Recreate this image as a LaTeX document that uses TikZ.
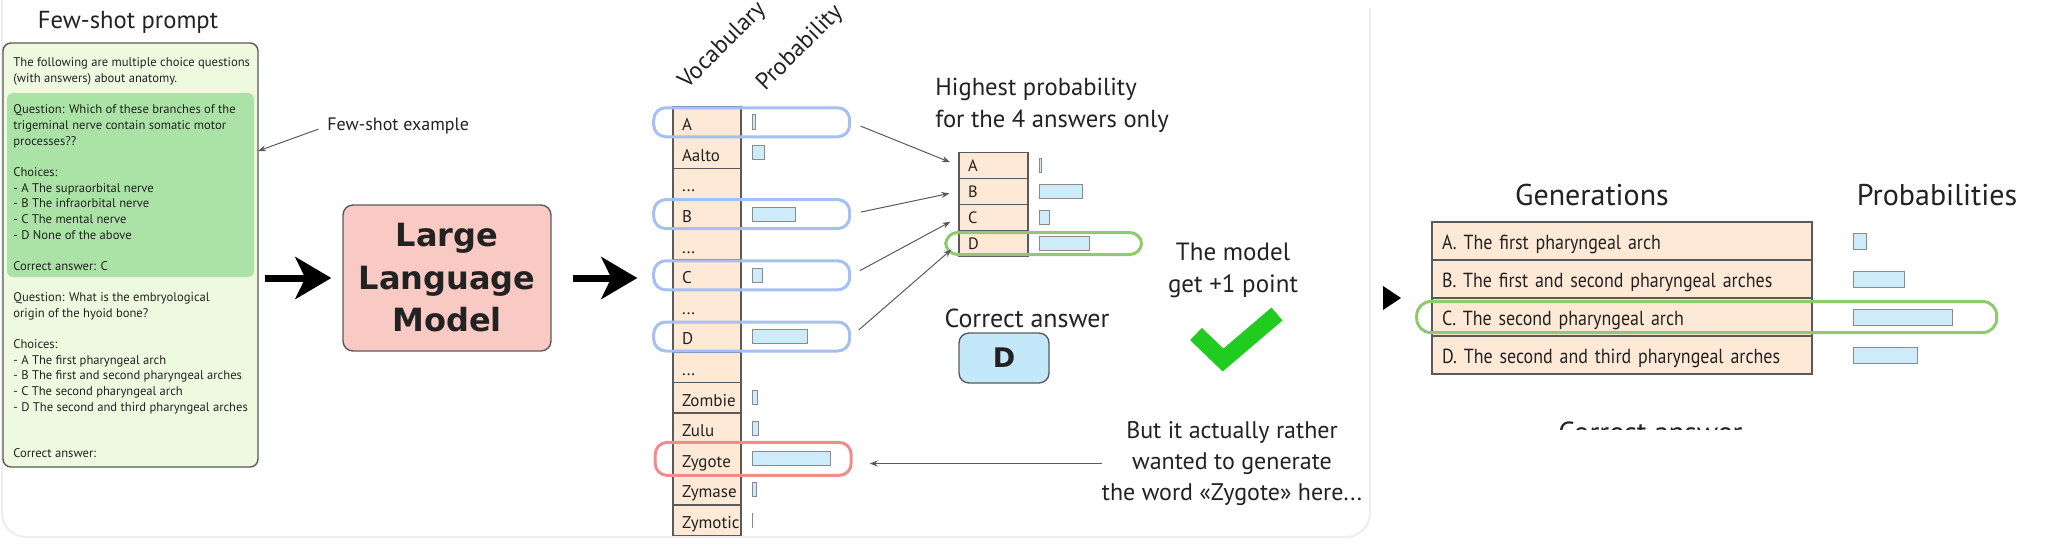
\documentclass[tikz,border=0pt]{standalone}
\usepackage{fontspec}
\setmainfont{PT Sans}
\newfontfamily\heavyfont{DejaVu Sans}
\newfontfamily\narrowfont{PT Sans}[FakeStretch=0.88]
\usepackage{tikz}
\usetikzlibrary{positioning, arrows.meta}

\definecolor{framegray}{HTML}{EDEDED}
\definecolor{ink}{HTML}{222222}
\definecolor{edgegray}{HTML}{5A5A5A}
\definecolor{promptfill}{HTML}{EDFADF}
\definecolor{shotfill}{HTML}{ABE2A6}
\definecolor{llmfill}{HTML}{F9C9C3}
\definecolor{cellfill}{HTML}{FDE9D5}
\definecolor{barfill}{HTML}{CDEBF8}
\definecolor{barline}{HTML}{8A8A8A}
\definecolor{ringblue}{HTML}{A4C0F4}
\definecolor{ringred}{HTML}{F28B8B}
\definecolor{ringgreen}{HTML}{8DCB6E}
\definecolor{answerfill}{HTML}{C3E8F9}
\definecolor{tickgreen}{HTML}{20CC20}

\begin{document}
\begin{tikzpicture}[x=0.5pt, y=-0.5pt, node distance=15.3pt, on grid, text=ink,
    prompttext/.style={inner sep=0pt, align=left, font=\fontsize{6.3pt}{7.83pt}\selectfont},
    vocab/.style={draw=edgegray, fill=cellfill, line width=0.7pt, minimum height=15.3pt,
        inner xsep=4.5pt, inner ysep=0pt, text width=25pt, align=left,
        text height=9.5pt, text depth=1.1pt, font=\fontsize{8.5pt}{10pt}\selectfont},
    pick/.style={vocab, minimum height=13pt, text width=25.5pt, text height=7pt, text depth=1pt,
        font=\fontsize{8.2pt}{10pt}\selectfont},
    gen/.style={vocab, minimum height=19pt, inner xsep=5pt, text width=180pt,
        text height=10pt, text depth=1.5pt, font=\narrowfont\fontsize{10.2pt}{12pt}\selectfont},
    bar/.style={draw=barline, fill=barfill, line width=0.5pt, anchor=west, inner sep=0pt,
        minimum height=7pt},
    ring/.style={line width=1.5pt, rounded corners=6pt, minimum width=98pt,
        minimum height=14.5pt, inner sep=0pt},
    bigarrow/.style={-{Stealth[length=18pt, width=21pt, inset=5pt]}, line width=3.5pt, black},
    thinarrow/.style={-{Stealth[length=4pt, width=3pt]}, edgegray, line width=0.5pt}]

    \useasboundingbox (0,0) rectangle (2070,548);
    \draw[framegray, line width=1pt, rounded corners=12pt]
        (2,0) -- (2,537) -- (1370,537) -- (1370,8);

    % few-shot prompt
    \node[anchor=base, inner sep=0pt, font=\fontsize{12.3pt}{14pt}\selectfont] (title) at (128,28) {Few-shot prompt};
    \node[draw=edgegray, fill=promptfill, line width=0.7pt, rounded corners=4pt,
          minimum width=127.5pt, minimum height=212pt] (prompt) at (130.5,255) {};
    \node[fill=shotfill, rounded corners=3pt, minimum width=123.5pt, minimum height=92pt] (shot) at (130.5,185) {};
    \node[prompttext, anchor=north west] (intro) at (13,57.5)
        {The following are multiple choice questions\\(with answers) about anatomy.};
    \node[prompttext, anchor=north west] (shottext) at (13,104.5)
        {Question: Which of these branches of the\\trigeminal nerve contain somatic motor\\processes??\\[7.83pt]
         Choices:\\- A The supraorbital nerve\\- B The infraorbital nerve\\- C The mental nerve\\- D None of the above\\[7.83pt]
         Correct answer: C};
    \node[prompttext, anchor=north west] (query) at (13,292)
        {Question: What is the embryological\\origin of the hyoid bone?\\[7.83pt]
         Choices:\\- A The first pharyngeal arch\\- B The first and second pharyngeal arches\\- C The second pharyngeal arch\\- D The second and third pharyngeal arches\\[15.66pt]
         Correct answer:};
    \node[anchor=west, inner sep=0pt, font=\fontsize{9pt}{11pt}\selectfont] (fse) at (327,126) {Few-shot example};
    \coordinate (fsetip) at (258,151);
    \draw[thinarrow, shorten <=4.5pt] (fse.west) -- (fsetip);

    % model
    \node[draw=edgegray, fill=llmfill, line width=0.7pt, rounded corners=5pt,
          minimum width=104pt, minimum height=73pt, align=center,
          font=\heavyfont\bfseries\fontsize{16pt}{21.25pt}\selectfont] (llm) at (447,278) {Large\\Language\\Model};

    % vocabulary
    \node[rotate=45, anchor=base west, inner sep=0pt, font=\fontsize{12pt}{14pt}\selectfont] (vocabhead) at (687,90) {Vocabulary};
    \node[rotate=45, anchor=base west, inner sep=0pt, font=\fontsize{12pt}{14pt}\selectfont] (probhead) at (765,92) {Probability};
    \node[vocab] (vA) at (707,122.3) {A};
    \node[vocab] (vAalto) [below=of vA] {Aalto};
    \node[vocab] (vgap1) [below=of vAalto] {...};
    \node[vocab] (vB) [below=of vgap1] {B};
    \node[vocab] (vgap2) [below=of vB] {...};
    \node[vocab] (vC) [below=of vgap2] {C};
    \node[vocab] (vgap3) [below=of vC] {...};
    \node[vocab] (vD) [below=of vgap3] {D};
    \node[vocab] (vgap4) [below=of vD] {...};
    \node[vocab] (vZombie) [below=of vgap4] {Zombie};
    \node[vocab] (vZulu) [below=of vZombie] {Zulu};
    \node[vocab] (vZygote) [below=of vZulu] {Zygote};
    \node[vocab] (vZymase) [below=of vZygote] {Zymase};
    \node[vocab] (vZymotic) [below=of vZymase] {Zymotic};

    \node[bar, minimum width=1.5pt, minimum height=7.5pt] (pA) at ([xshift=5pt]vA.east) {};
    \node[bar, minimum width=6pt] (pAalto) at ([xshift=5pt]vAalto.east) {};
    \node[bar, minimum width=21.5pt] (pB) at ([xshift=5pt]vB.east) {};
    \node[bar, minimum width=5pt] (pC) at ([xshift=5pt]vC.east) {};
    \node[bar, minimum width=27.5pt] (pD) at ([xshift=5pt]vD.east) {};
    \node[bar, minimum width=2.5pt] (pZombie) at ([xshift=5pt]vZombie.east) {};
    \node[bar, minimum width=3pt] (pZulu) at ([xshift=5pt]vZulu.east) {};
    \node[bar, minimum width=39pt] (pZygote) at ([xshift=5pt]vZygote.east) {};
    \node[bar, minimum width=2pt] (pZymase) at ([xshift=5pt]vZymase.east) {};
    \node[bar, minimum width=0.3pt] (pZymotic) at ([xshift=5pt]vZymotic.east) {};

    \node[ring, draw=ringblue] (hA) at (pA.west) {};
    \node[ring, draw=ringblue] (hB) at (pB.west) {};
    \node[ring, draw=ringblue] (hC) at (pC.west) {};
    \node[ring, draw=ringblue] (hD) at (pD.west) {};
    \node[ring, draw=ringred, minimum height=16.5pt] (hZ) at ([xshift=0.75pt]pZygote.west) {};

    \draw[bigarrow, shorten <=3pt, shorten >=5.5pt] (prompt.east |- llm.west) -- (llm.west);
    \draw[bigarrow, shorten <=10.5pt, shorten >=17.5pt] (llm.east) -- (llm.east -| vC.west);

    % four answers only
    \node[anchor=west, align=left, inner sep=0pt, font=\fontsize{12.3pt}{16pt}\selectfont] (highest) at (935,105.5)
        {Highest probability\\for the 4 answers only};
    \node[pick] (sA) at (993.5,165.5) {A};
    \node[pick] (sB) [below=13pt of sA] {B};
    \node[pick] (sC) [below=13pt of sB] {C};
    \node[pick] (sD) [below=13pt of sC] {D};
    \node[bar, minimum width=1pt] (spA) at ([xshift=5pt]sA.east) {};
    \node[bar, minimum width=21.5pt] (spB) at ([xshift=5pt]sB.east) {};
    \node[bar, minimum width=5pt] (spC) at ([xshift=5pt]sC.east) {};
    \node[bar, minimum width=25pt] (spD) at ([xshift=5pt]sD.east) {};
    \node[ring, draw=ringgreen, minimum height=11pt] (hsD) at ([xshift=2.5pt]spD.west) {};

    \path[thinarrow, shorten <=5pt, shorten >=4.5pt]
        (hA.east) edge (sA.west)
        (hB.east) edge (sB.west)
        (hC.east) edge (sC.west)
        (hD.east) edge (sD.west);

    \node[anchor=base, inner sep=0pt, font=\fontsize{13pt}{15pt}\selectfont] (correct) at (1027,327) {Correct answer};
    \node[draw=edgegray, fill=answerfill, line width=0.7pt, rounded corners=5pt,
          minimum width=45pt, minimum height=25pt,
          font=\heavyfont\bfseries\fontsize{13.5pt}{16pt}\selectfont] (answer) at (1004,358) {D};
    \node[align=center, inner sep=0pt, font=\fontsize{12.5pt}{16pt}\selectfont] (point) at (1233,270)
        {The model\\get +1 point};
    \draw[tickgreen, line width=8.5pt] (1196,334) -- (1223,360) -- (1277,314);

    \node[align=center, inner sep=0pt, font=\fontsize{12pt}{15.5pt}\selectfont] (rather) at (1232,463.5)
        {But it actually rather\\wanted to generate\\the word «Zygote» here...};
    \draw[thinarrow, shorten >=8.5pt] (rather.west) -- (rather.west -| hZ.east);

    % generations
    \fill[black] (1383,286) -- (1401,298) -- (1383,310) -- cycle;
    \node[anchor=base, inner sep=0pt, font=\fontsize{15pt}{18pt}\selectfont] (genhead) at (1592,205) {Generations};
    \node[anchor=base, inner sep=0pt, font=\fontsize{15pt}{18pt}\selectfont] (probshead) at (1937,205) {Probabilities};
    \node[gen] (gA) at (1622,241) {\mbox{A. The first pharyngeal arch}};
    \node[gen] (gB) [below=19pt of gA] {\mbox{B. The first and second pharyngeal arches}};
    \node[gen] (gC) [below=19pt of gB] {\mbox{C. The second pharyngeal arch}};
    \node[gen] (gD) [below=19pt of gC] {\mbox{D. The second and third pharyngeal arches}};
    \node[bar, minimum width=6.5pt, minimum height=8pt] (gpA) at ([xshift=20pt]gA.east) {};
    \node[bar, minimum width=25.5pt, minimum height=8pt] (gpB) at ([xshift=20pt]gB.east) {};
    \node[bar, minimum width=49.5pt, minimum height=8pt] (gpC) at ([xshift=20pt]gC.east) {};
    \node[bar, minimum width=32pt, minimum height=8pt] (gpD) at ([xshift=20pt]gD.east) {};
    \node[ring, draw=ringgreen, minimum width=290pt, minimum height=15.5pt, rounded corners=7pt] (hgC)
        at ([xshift=-73pt]gpC.west) {};
    \begin{scope}
        \clip (1500,380) rectangle (1800,429);
        \node[anchor=base west, inner sep=0pt, font=\fontsize{14.5pt}{17pt}\selectfont] (cut) at (1558,442) {Correct answer};
    \end{scope}
\end{tikzpicture}
\end{document}
